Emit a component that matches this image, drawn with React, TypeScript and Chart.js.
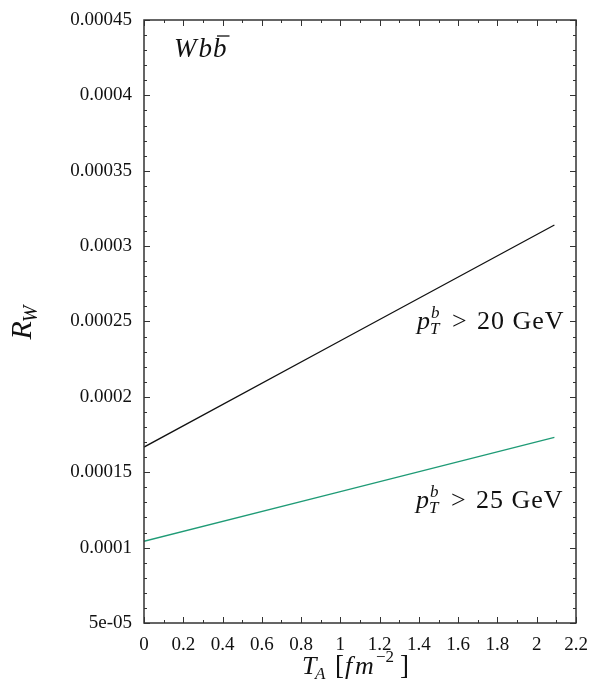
import React, { useEffect, useRef } from "react";
import { Chart, registerables } from "chart.js";

Chart.register(...registerables);

const xValues = [0, 1, 2.09];
const pt20Values = [0.0001667, 0.0002372, 0.000314];
const pt25Values = [0.0001042, 0.0001372, 0.0001732];

const yTickValues = [0.00005, 0.0001, 0.00015, 0.0002, 0.00025, 0.0003, 0.00035, 0.0004, 0.00045];
const yTickLabels = ["5e-05", "0.0001", "0.00015", "0.0002", "0.00025", "0.0003", "0.00035", "0.0004", "0.00045"];
const xTickValues = [0, 0.2, 0.4, 0.6, 0.8, 1, 1.2, 1.4, 1.6, 1.8, 2, 2.2];
const xTickLabels = ["0", "0.2", "0.4", "0.6", "0.8", "1", "1.2", "1.4", "1.6", "1.8", "2", "2.2"];

const SERIF = "'Liberation Serif', 'DejaVu Serif', serif";
const FRAME = "#333333";

function drawPt(ctx: CanvasRenderingContext2D, x0: number, baseY: number, rest: string) {
  const big = 26;
  const small = 17;
  ctx.textAlign = "left";
  ctx.textBaseline = "alphabetic";
  ctx.fillStyle = "#111";
  ctx.font = `italic ${big}px ${SERIF}`;
  ctx.fillText("p", x0, baseY);
  ctx.font = `italic ${small}px ${SERIF}`;
  ctx.fillText("T", x0 + 13, baseY + 5);
  ctx.fillText("b", x0 + 14, baseY - 11);
  ctx.font = `${big}px ${SERIF}`;
  ctx.fillText(">", x0 + 35, baseY);
  (ctx as any).letterSpacing = "1px";
  ctx.fillText(rest, x0 + 60, baseY);
  (ctx as any).letterSpacing = "0px";
}

const framePlugin = {
  id: "framePlugin",
  afterDraw(chart: any) {
    const ctx: CanvasRenderingContext2D = chart.ctx;
    const { left, right, top, bottom } = chart.chartArea;
    const xs = chart.scales.x;
    const ys = chart.scales.y;
    ctx.save();
    ctx.strokeStyle = FRAME;
    ctx.lineWidth = 1;
    for (let i = 0; i <= 22; i++) {
      const v = i / 10;
      const px = Math.round(xs.getPixelForValue(v)) + 0.5;
      const len = i % 2 === 0 ? 6 : 3;
      ctx.beginPath();
      ctx.moveTo(px, bottom);
      ctx.lineTo(px, bottom - len);
      ctx.moveTo(px, top);
      ctx.lineTo(px, top + len);
      ctx.stroke();
    }
    for (let i = 5; i <= 45; i++) {
      const v = i * 1e-5;
      const py = Math.round(ys.getPixelForValue(v)) + 0.5;
      const len = i % 5 === 0 ? 6 : 3;
      ctx.beginPath();
      ctx.moveTo(left, py);
      ctx.lineTo(left + len, py);
      ctx.moveTo(right, py);
      ctx.lineTo(right - len, py);
      ctx.stroke();
    }
    ctx.lineWidth = 1.5;
    ctx.strokeRect(left, top, right - left, bottom - top);

    // Wbb̄ label
    ctx.fillStyle = "#111";
    ctx.textBaseline = "alphabetic";
    ctx.textAlign = "left";
    ctx.font = `italic 27px ${SERIF}`;
    let x = left + 30;
    const by = top + 37;
    ctx.fillText("W", x, by);
    x += ctx.measureText("W").width + 2;
    ctx.fillText("b", x, by);
    x += ctx.measureText("b").width + 1;
    ctx.fillText("b", x, by);
    const wb = ctx.measureText("b").width;
    ctx.lineWidth = 1.3;
    ctx.strokeStyle = "#111";
    ctx.beginPath();
    ctx.moveTo(x + 4, by - 21);
    ctx.lineTo(x + wb + 3, by - 21);
    ctx.stroke();

    drawPt(ctx, xs.getPixelForValue(1.39), ys.getPixelForValue(0.000245), "20 GeV");
    drawPt(ctx, xs.getPixelForValue(1.385), ys.getPixelForValue(0.0001263), "25 GeV");

    // x title T_A [fm^-2]
    const s = (left + right) / 2 - 58;
    const tb = 674;
    const F = 26;
    const f = 17;
    ctx.font = `italic ${F}px ${SERIF}`;
    ctx.fillText("T", s, tb);
    ctx.font = `italic ${f}px ${SERIF}`;
    ctx.fillText("A", s + 13, tb + 5);
    ctx.font = `${F + 1}px ${SERIF}`;
    ctx.fillText("[", s + 33, tb);
    ctx.font = `italic ${F}px ${SERIF}`;
    ctx.fillText("f", s + 43, tb);
    ctx.fillText("m", s + 53, tb);
    ctx.font = `${f}px ${SERIF}`;
    ctx.fillText("−2", s + 74, tb - 12);
    ctx.font = `${F + 1}px ${SERIF}`;
    ctx.fillText("]", s + 98, tb);

    // y title R_W
    ctx.save();
    ctx.translate(31, 322);
    ctx.rotate(-Math.PI / 2);
    ctx.font = `italic 30px ${SERIF}`;
    const wR = ctx.measureText("R").width;
    ctx.font = `italic 20px ${SERIF}`;
    const wW = ctx.measureText("W").width;
    const t2 = wR + wW;
    ctx.font = `italic 30px ${SERIF}`;
    ctx.fillText("R", -t2 / 2, 0);
    ctx.font = `italic 20px ${SERIF}`;
    ctx.fillText("W", -t2 / 2 + wR - 1, 6);
    ctx.restore();

    ctx.restore();
  },
};

export default function App() {
  const ref = useRef<HTMLCanvasElement | null>(null);
  useEffect(() => {
    document.body.style.margin = "0";
    const canvas = ref.current!;
    const chart = new Chart(canvas, {
      type: "scatter",
      data: {
        datasets: [
          {
            label: "pT > 20 GeV",
            data: xValues.map((x, i) => ({ x, y: pt20Values[i] })),
            showLine: true,
            borderColor: "#111111",
            borderWidth: 1.3,
            pointRadius: 0,
            fill: false,
          },
          {
            label: "pT > 25 GeV",
            data: xValues.map((x, i) => ({ x, y: pt25Values[i] })),
            showLine: true,
            borderColor: "#1f9b76",
            borderWidth: 1.3,
            pointRadius: 0,
            fill: false,
          },
        ],
      },
      options: {
        responsive: false,
        animation: false,
        devicePixelRatio: 1,
        layout: { padding: { top: 20, right: 16, left: 0, bottom: 0 } },
        plugins: { legend: { display: false }, tooltip: { enabled: false } },
        scales: {
          x: {
            type: "linear",
            min: 0,
            max: 2.2,
            grid: { display: false, drawTicks: false },
            border: { display: false },
            afterBuildTicks: (sc: any) => {
              sc.ticks = xTickValues.map((v) => ({ value: v }));
            },
            afterFit: (sc: any) => {
              sc.height = 62;
              sc.paddingLeft = 0;
              sc.paddingRight = 0;
            },
            ticks: {
              autoSkip: false,
              maxRotation: 0,
              padding: 11,
              color: "#111",
              font: { family: SERIF, size: 19 },
              callback: (_v: any, i: number) => xTickLabels[i],
            },
          },
          y: {
            type: "linear",
            min: 0.00005,
            max: 0.00045,
            grid: { display: false, drawTicks: false },
            border: { display: false },
            afterBuildTicks: (sc: any) => {
              sc.ticks = yTickValues.map((v) => ({ value: v }));
            },
            afterFit: (sc: any) => {
              sc.width = 144;
              sc.paddingTop = 0;
              sc.paddingBottom = 0;
            },
            ticks: {
              autoSkip: false,
              padding: 12,
              color: "#111",
              font: { family: SERIF, size: 19 },
              callback: (_v: any, i: number) => yTickLabels[i],
            },
          },
        },
      },
      plugins: [framePlugin],
    } as any);
    return () => chart.destroy();
  }, []);
  return (
    <div style={{ width: 592, height: 685, background: "#fff" }}>
      <canvas ref={ref} width={592} height={685} style={{ display: "block" }} />
    </div>
  );
}
